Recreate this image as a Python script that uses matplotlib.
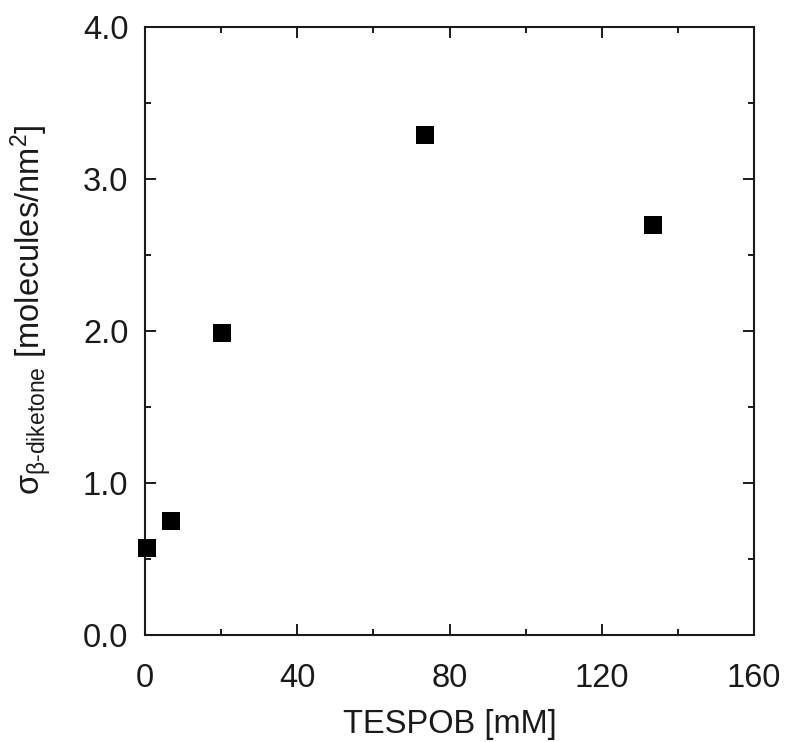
import matplotlib
matplotlib.use('Agg')
import matplotlib.pyplot as plt
from matplotlib.ticker import MultipleLocator

# data
tespob_mM = [0.5, 6.8, 20.2, 73.6, 133.5]
sigma = [0.57, 0.75, 1.99, 3.29, 2.70]

plt.rcParams['font.family'] = ['Liberation Sans', 'DejaVu Sans']
plt.rcParams['mathtext.fontset'] = 'custom'
plt.rcParams['mathtext.rm'] = 'Liberation Sans'
plt.rcParams['mathtext.it'] = 'Liberation Sans'
plt.rcParams['mathtext.default'] = 'regular'

W, H = 787, 742
fs = 23.5
fig = plt.figure(figsize=(W / 100, H / 100), dpi=100)
ax = fig.add_axes([145 / W, (H - 635) / H, 609 / W, 608 / H])

ax.plot(tespob_mM, sigma, 's', color='black', markersize=12.3,
        markeredgewidth=0, clip_on=False, zorder=3)

ax.set_xlim(0, 160)
ax.set_ylim(0, 4.0)
ax.xaxis.set_major_locator(MultipleLocator(40))
ax.xaxis.set_minor_locator(MultipleLocator(20))
ax.yaxis.set_major_locator(MultipleLocator(1.0))
ax.yaxis.set_minor_locator(MultipleLocator(0.5))
ax.yaxis.set_major_formatter(matplotlib.ticker.FormatStrFormatter('%.1f'))

ax.tick_params(which='both', direction='in', top=True, right=True,
               width=1.4, labelsize=fs, colors='#1a1a1a')
ax.tick_params(which='major', length=8)
ax.tick_params(axis='x', which='major', pad=20)
ax.tick_params(axis='y', which='major', pad=12)
ax.tick_params(which='minor', length=4.5)
for s in ax.spines.values():
    s.set_linewidth(1.5)
    s.set_color('#1a1a1a')

ax.set_xlabel('TESPOB [mM]', fontsize=fs, color='#1a1a1a')
ax.set_ylabel(r'σ$_{β\text{-diketone}}$ [molecules/nm$^2$]', fontsize=fs,
              color='#1a1a1a')
ax.xaxis.set_label_coords(0.5, -0.122)
ax.yaxis.set_label_coords(-0.15, 0.535)

fig.savefig('out.png', dpi=100)
